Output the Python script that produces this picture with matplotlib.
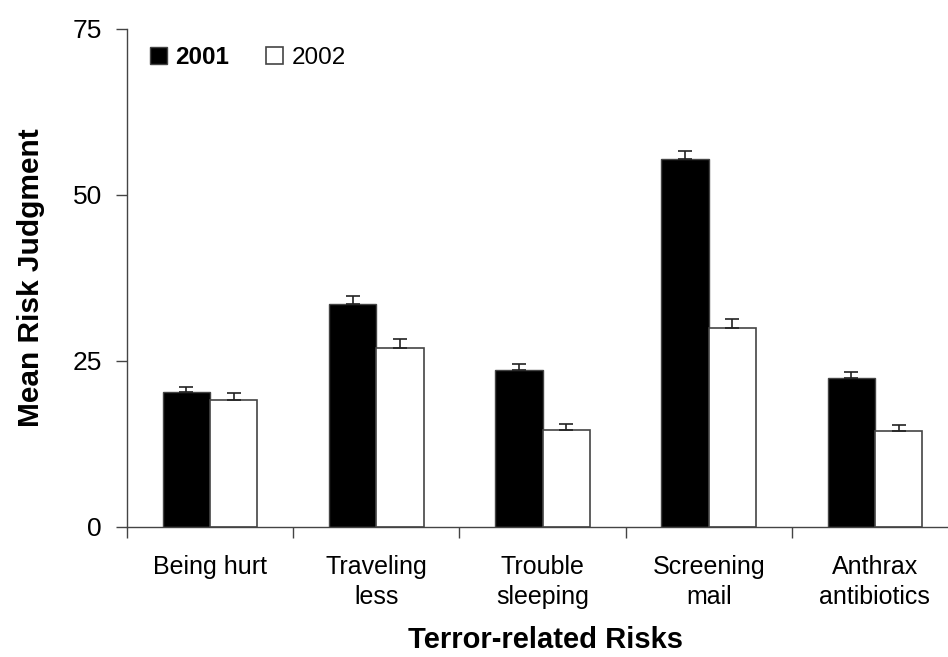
import matplotlib
matplotlib.use("Agg")
import matplotlib.pyplot as plt
import numpy as np

plt.rcParams['font.family'] = ['Liberation Sans', 'DejaVu Sans']

categories = ["Being hurt", "Traveling\nless", "Trouble\nsleeping", "Screening\nmail", "Anthrax\nantibiotics"]
series_names = ["2001", "2002"]
values_2001 = [20.3, 33.6, 23.6, 55.4, 22.4]
err_2001 = [0.8, 1.2, 0.9, 1.3, 0.9]
values_2002 = [19.2, 26.9, 14.6, 29.9, 14.5]
err_2002 = [1.0, 1.4, 0.9, 1.5, 0.9]
yticks = [0, 25, 50, 75]

W, H = 948, 657
fig = plt.figure(figsize=(W / 100, H / 100), dpi=100)
ax = fig.add_axes([127 / W, (H - 527) / H, 831 / W, 498 / H])

x = np.arange(len(categories))
bw = 0.285
ax.bar(x - bw / 2, values_2001, bw, color='black', edgecolor='#444444', linewidth=1,
       yerr=[np.zeros(len(err_2001)), err_2001], capsize=5,
       error_kw=dict(ecolor='#222222', elinewidth=1.2, capthick=1.2), label=series_names[0])
ax.bar(x + bw / 2, values_2002, bw, color='white', edgecolor='#444444', linewidth=1.2,
       yerr=[np.zeros(len(err_2002)), err_2002], capsize=5,
       error_kw=dict(ecolor='#222222', elinewidth=1.2, capthick=1.2), label=series_names[1])

ax.set_xlim(-0.5, len(categories) - 0.5)
ax.set_ylim(0, 75)
ax.set_yticks(yticks)
ax.set_yticklabels([str(t) for t in yticks], fontsize=19)
ax.set_xticks(np.arange(len(categories) + 1) - 0.5)
ax.set_xticklabels([])
ax.set_xticks(x, minor=True)
ax.set_xticklabels(categories, minor=True, fontsize=18, linespacing=1.35)
ax.tick_params(axis='x', which='minor', length=0, pad=20)
ax.tick_params(axis='x', which='major', length=8, width=1, color='#444444', direction='out')
ax.tick_params(axis='y', length=8, width=1, color='#444444', direction='out', pad=10)

for s in ['top', 'right']:
    ax.spines[s].set_visible(False)
for s in ['left', 'bottom']:
    ax.spines[s].set_color('#444444')
    ax.spines[s].set_linewidth(1)

ax.set_ylabel("Mean Risk Judgment", fontsize=21.5, fontweight='bold', labelpad=20)
fig.text(545 / W, 1 - 640 / H, "Terror-related Risks", fontsize=21, fontweight='bold',
         ha='center', va='center')

leg = ax.legend(loc='upper left', bbox_to_anchor=(0.01, 0.995), ncol=2, frameon=False,
                fontsize=17.5, handlelength=0.7, handleheight=0.7, handletextpad=0.35,
                columnspacing=1.5, borderaxespad=0.2)
leg.get_texts()[0].set_fontweight('bold')

fig.savefig("out.png", dpi=100)
